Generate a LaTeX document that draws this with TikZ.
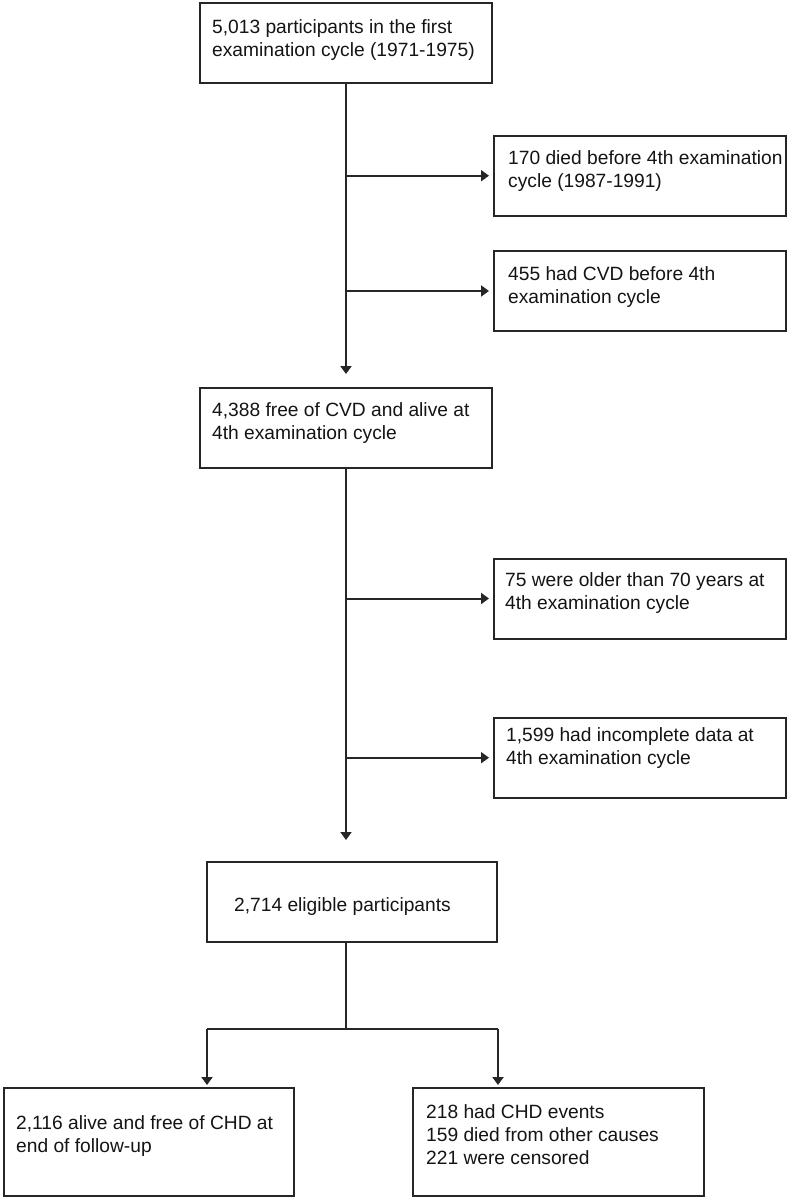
\documentclass[tikz,border=0pt]{standalone}
\usepackage{fontspec}
\setmainfont{Liberation Sans}
\usetikzlibrary{
	arrows.meta,
	calc
}

\begin{document}
\begin{tikzpicture}[
		x=1pt, y=-1pt,
		box/.style={draw=black!85, line width=2pt, minimum width=292pt, minimum height=80pt, inner sep=0pt},
		txt/.style={anchor=north west, inner sep=0pt, align=left, text=black!92, font=\fontsize{19.2}{23}\selectfont},
		arrow/.style={draw=black!85, line width=2pt, -{Triangle[length=8pt,width=11pt]}},
		line/.style={draw=black!85, line width=2pt}
		]
		
		\useasboundingbox (0,0) rectangle (789,1199);
		
		% boxes
		\node[box] (start) at (346,43) {};
		\node[box] (died) at (640,175.7) {};
		\node[box] (cvd) at (640,291) {};
		\node[box] (free) at (346,428) {};
		\node[box] (older) at (640,598.5) {};
		\node[box] (missing) at (640,757.7) {};
		\node[box, minimum width=290pt] (eligible) at (352,902) {};
		\node[box, minimum width=290pt, minimum height=108pt] (alive) at (149,1142) {};
		\node[box, minimum width=291pt, minimum height=108pt] (events) at (558.5,1142) {};
		
		% texts
		\node[txt] (start text) at ($(start.north west)+(13,17)$) {
			5,013 participants in the first\\
			examination cycle (1971-1975)
		};
		\node[txt] (died text) at ($(died.north west)+(15,16)$) {
			170 died before 4th examination\\
			cycle (1987-1991)
		};
		\node[txt] (cvd text) at ($(cvd.north west)+(15,16)$) {
			455 had CVD before 4th\\
			examination cycle
		};
		\node[txt] (free text) at ($(free.north west)+(13,15)$) {
			4,388 free of CVD and alive at\\
			4th examination cycle
		};
		\node[txt] (older text) at ($(older.north west)+(12,15)$) {
			75 were older than 70 years at\\
			4th examination cycle
		};
		\node[txt] (missing text) at ($(missing.north west)+(13,11)$) {
			1,599 had incomplete data at\\
			4th examination cycle
		};
		\node[txt, anchor=base] (eligible text) at (342.5,911) {2,714 eligible participants};
		\node[txt] (alive text) at ($(alive.north west)+(13,28)$) {
			2,116 alive and free of CHD at\\
			end of follow-up
		};
		\node[txt] (events text) at ($(events.north west)+(14,17)$) {
			218 had CHD events\\
			159 died from other causes\\
			221 were censored
		};
		
		% connectors
		\draw[arrow, shorten >=13pt] (start.south) -- (free.north);
		\draw[arrow, shorten >=4pt] (died.west -| start.south) -- (died.west);
		\draw[arrow, shorten >=4pt] (cvd.west -| start.south) -- (cvd.west);
		\draw[arrow, shorten >=21pt] (free.south) -- (free.south |- eligible.north);
		\draw[arrow, shorten >=4pt] (older.west -| free.south) -- (older.west);
		\draw[arrow, shorten >=4pt] (missing.west -| free.south) -- (missing.west);
		
		\coordinate (split) at (346,1029);
		\coordinate (split left) at (207,1029);
		\coordinate (split right) at (498,1029);
		\draw[line] (eligible.south -| split) -- (split);
		\draw[line] (split left) -- (split right);
		\draw[arrow, shorten >=2pt] (split left) -- (split left |- alive.north);
		\draw[arrow, shorten >=2pt] (split right) -- (split right |- events.north);
		
	\end{tikzpicture}
\end{document}
